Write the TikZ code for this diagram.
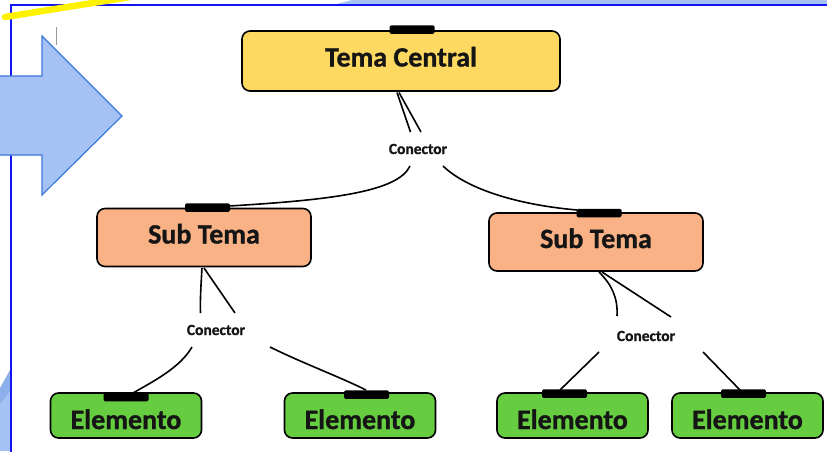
\documentclass[tikz,border=0pt]{standalone}
\usepackage{fontspec}
\setmainfont{Carlito}[BoldFeatures={FakeBold=1}]
\definecolor{frameblue}{HTML}{1414F0}
\definecolor{arrowfill}{HTML}{A4C2F4}
\definecolor{arrowline}{HTML}{3C78D8}
\definecolor{darkband}{HTML}{8DB0EC}
\definecolor{temafill}{HTML}{FED962}
\definecolor{subfill}{HTML}{F9B286}
\definecolor{elemfill}{HTML}{66CC40}
\definecolor{txt}{HTML}{151515}
\tikzset{
  box/.style={draw=black, line width=1.6pt, rounded corners=8pt, inner sep=0pt,
    font=\bfseries\fontsize{28}{28}\selectfont, text=txt, text depth=0pt},
  temabox/.style={box, fill=temafill, minimum width=318pt, minimum height=60pt, text height=11pt},
  subbox/.style={box, fill=subfill, minimum width=214pt, minimum height=58pt, text height=12pt},
  elembox/.style={box, fill=elemfill, minimum width=151pt, minimum height=45pt, text height=27pt},
  tab/.style={fill=black, rounded corners=1.5pt, minimum width=45pt, minimum height=8.5pt, inner sep=0pt},
  conlabel/.style={font=\bfseries\fontsize{15.5}{15.5}\selectfont, text=txt, inner sep=1pt},
  link/.style={draw=black, line width=1.6pt}
}
\begin{document}
\begin{tikzpicture}[x=1pt,y=-1pt]
\useasboundingbox (0,0) rectangle (827,451);
% background decorations
\fill[arrowfill] (335,4.5) -- (352,0) -- (827,0) -- (827,4.5) -- cycle;
\fill[darkband] (0,388) -- (10,370) -- (10,392) -- (0,405) -- cycle;
\fill[arrowfill] (0,405) -- (10,392) -- (10,451) -- (0,451) -- cycle;
\draw[frameblue, line width=2pt] (10.5,452) -- (10.5,5) -- (828,5);
\draw[arrowline, line width=1.2pt, fill=arrowfill]
  (-5,76) -- (42,76) -- (42,36) -- (122,116) -- (42,195) -- (42,155) -- (-5,155) -- cycle;
\draw[yellow, line width=6.5pt, line cap=round] (5,17) -- (130,-3);
\draw[gray!80, line width=0.8pt] (56,27) -- (56,45);

% boxes
\node[temabox] (tema) at (401,61) {Tema Central};
\node[subbox] (subL) at (204,237.5) {Sub Tema};
\node[subbox] (subR) at (596,242) {Sub Tema};
\node[elembox] (e1) at (126,415.5) {Elemento};
\node[elembox] (e2) at (360,415.5) {Elemento};
\node[elembox] (e3) at (572.5,415.5) {Elemento};
\node[elembox] (e4) at (747.5,415.5) {Elemento};

% tabs
\node[tab] (ttema) at (412,29.5) {};
\node[tab] (tsubL) at (207.5,207.5) {};
\node[tab] (tsubR) at (599,213) {};
\node[tab] (te1) at (126,397) {};
\node[tab] (te2) at (366.5,394.5) {};
\node[tab] (te3) at (564.5,393.5) {};
\node[tab] (te4) at (743.5,393.5) {};

% connector labels
\node[conlabel] (c1) at (418,149) {Conector};
\node[conlabel] (c2) at (216,330) {Conector};
\node[conlabel] (c3) at (646,336) {Conector};

% connector end points
\coordinate (a1) at (397,92.5);
\coordinate (a2) at (399,92.5);
\coordinate (a3) at (410.5,132);
\coordinate (a4) at (421,132);
\coordinate (b1) at (410,166);
\coordinate (b2) at (443,166);
\coordinate (b3) at (229,206);
\coordinate (b4) at (577,210);
\coordinate (d1) at (202,268);
\coordinate (d2) at (204,268);
\coordinate (d3) at (200.5,313);
\coordinate (d4) at (235,313);
\coordinate (f1) at (192,347);
\coordinate (f2) at (270,347);
\coordinate (f3) at (133,393);
\coordinate (f4) at (366,390);
\coordinate (g1) at (599,272);
\coordinate (g2) at (602,272);
\coordinate (g3) at (617,316);
\coordinate (g4) at (671,317);
\coordinate (h1) at (599,352);
\coordinate (h2) at (703,352);
\coordinate (h3) at (560,390);
\coordinate (h4) at (740,390);

% connectors
\draw[link] (a1) -- (a3);
\draw[link] (a2) -- (a4);
\draw[link] (b1) .. controls (398,192) and (330,200) .. (b3);
\draw[link] (b2) .. controls (468,190) and (520,205) .. (b4);
\draw[link] (d1) .. controls (201,285) and (200,300) .. (d3);
\draw[link] (d2) -- (d4);
\draw[link] (f1) .. controls (180,368) and (152,382) .. (f3);
\draw[link] (f2) .. controls (300,362) and (340,377) .. (f4);
\draw[link] (g1) .. controls (612,285) and (618,298) .. (g3);
\draw[link] (g2) -- (g4);
\draw[link] (h1) -- (h3);
\draw[link] (h2) -- (h4);
\end{tikzpicture}
\end{document}
